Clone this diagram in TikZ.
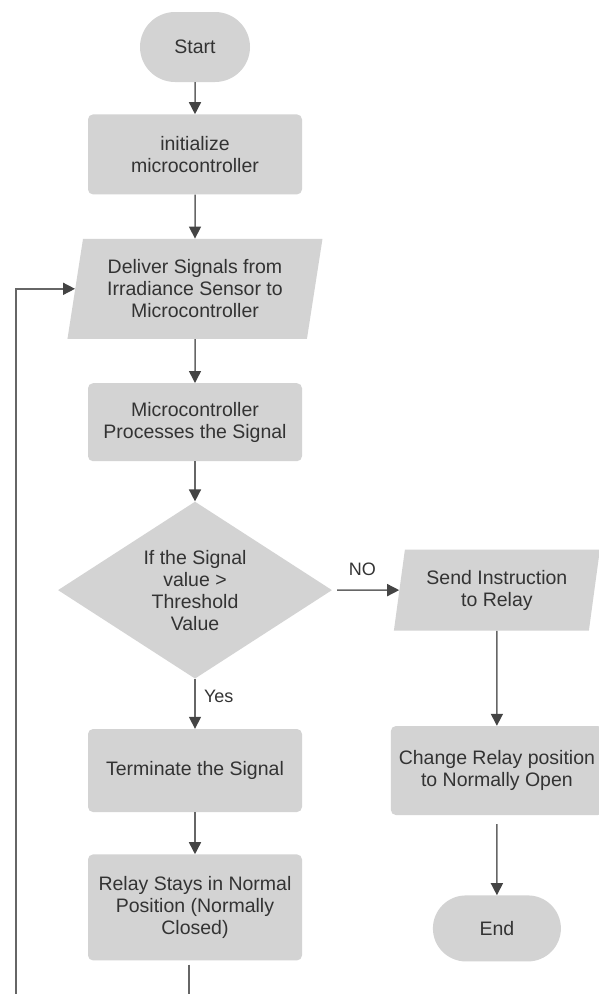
\documentclass[tikz,border=0pt]{standalone}
\usepackage{fontspec}
\setmainfont{Liberation Sans}
\usepackage{xcolor}
\usepackage{tikz}
\usetikzlibrary{positioning}
\usetikzlibrary{shapes.geometric}
\usetikzlibrary{shapes.misc}
\usetikzlibrary{arrows.meta}
\definecolor{boxgray}{HTML}{D3D3D3}
\definecolor{linegray}{HTML}{666666}
\definecolor{tipgray}{HTML}{444444}
\definecolor{textgray}{HTML}{333333}
\tikzset{
	flowbase/.style={
			fill=boxgray,
			text=textgray,
			align=center,
			inner sep=2pt,
			font=\fontsize{19.5}{22}\selectfont
		},
	process/.style={
			flowbase,
			rectangle,
			rounded corners=5pt,
			minimum width=214pt
		},
	terminal/.style={flowbase, rounded rectangle},
	io/.style={
			flowbase,
			trapezium,
			trapezium left angle=76,
			trapezium right angle=104,
			trapezium stretches body
		},
	decision/.style={flowbase, diamond, aspect=1.55, inner sep=0pt},
	flow/.style={
			draw=linegray,
			line width=1.5pt,
			-{Triangle[width=12pt,length=12pt,color=tipgray]}
		},
	branch/.style={text=textgray, font=\fontsize{18}{20}\selectfont}
}

\begin{document}
\begin{tikzpicture}[x=1pt, y=-1pt]
		\useasboundingbox (0,0) rectangle (598,994);

		% Start
		\node[terminal,
			minimum width=114pt,
			minimum height=70pt
		] (start) at (195,47) {Start};

		% Initialize
		\node[process,
			minimum height=80pt,
			below=32pt of start
		] (init) {initialize\\microcontroller};

		% Sensor input
		\node[io,
			minimum width=255pt,
			minimum height=100pt,
			below=44pt of init
		] (deliver) {Deliver Signals from\\Irradiance Sensor to\\Microcontroller};

		% Processing
		\node[process,
			minimum height=78pt,
			below=44pt of deliver
		] (proc) {Microcontroller\\Processes the Signal};

		% Decision
		\node[decision,
			minimum width=274pt,
			minimum height=177pt,
			below=40pt of proc
		] (check) {If the Signal\\value >\\Threshold\\Value};

		% Yes branch
		\node[process,
			minimum height=83pt,
			below=50pt of check
		] (term) {Terminate the Signal};

		\node[process,
			minimum height=106pt,
			below=42pt of term
		] (relay) {Relay Stays in Normal\\Position (Normally\\Closed)};

		% No branch
		\node[io,
			minimum width=206pt,
			minimum height=81pt,
			right=67pt of check
		] (send) {Send Instruction\\to Relay};

		\node[process,
			minimum width=212pt,
			minimum height=89pt,
			below=95pt of send
		] (change) {Change Relay position\\to Normally Open};

		\node[terminal,
			minimum width=132pt,
			minimum height=66pt,
			below=80pt of change
		] (end) {End};

		% Arrows with text label
		\draw[flow] (start) -- (init);
		\draw[flow] (init) -- (deliver);
		\draw[flow] (deliver) -- (proc);
		\draw[flow] (proc) -- (check);

		\draw[flow] (check) -- (term)
		node[branch, pos=0.36, right=5pt]{Yes};
		\draw[flow] (term) -- (relay);

		\draw[flow, shorten <=5pt] (check) -- (send)
		node[branch, pos=0.45, above=10pt]{NO};

		\draw[flow] (send) -- (change);
		\draw[flow, shorten <=9pt] (change) -- (end);

		% Back to the sensor
		\coordinate (loopbottom) at (16,1010);
		\draw[flow, shorten <=4pt] ([xshift=-6pt]relay.south) |- (loopbottom) |- (deliver.west);
	\end{tikzpicture}
\end{document}
